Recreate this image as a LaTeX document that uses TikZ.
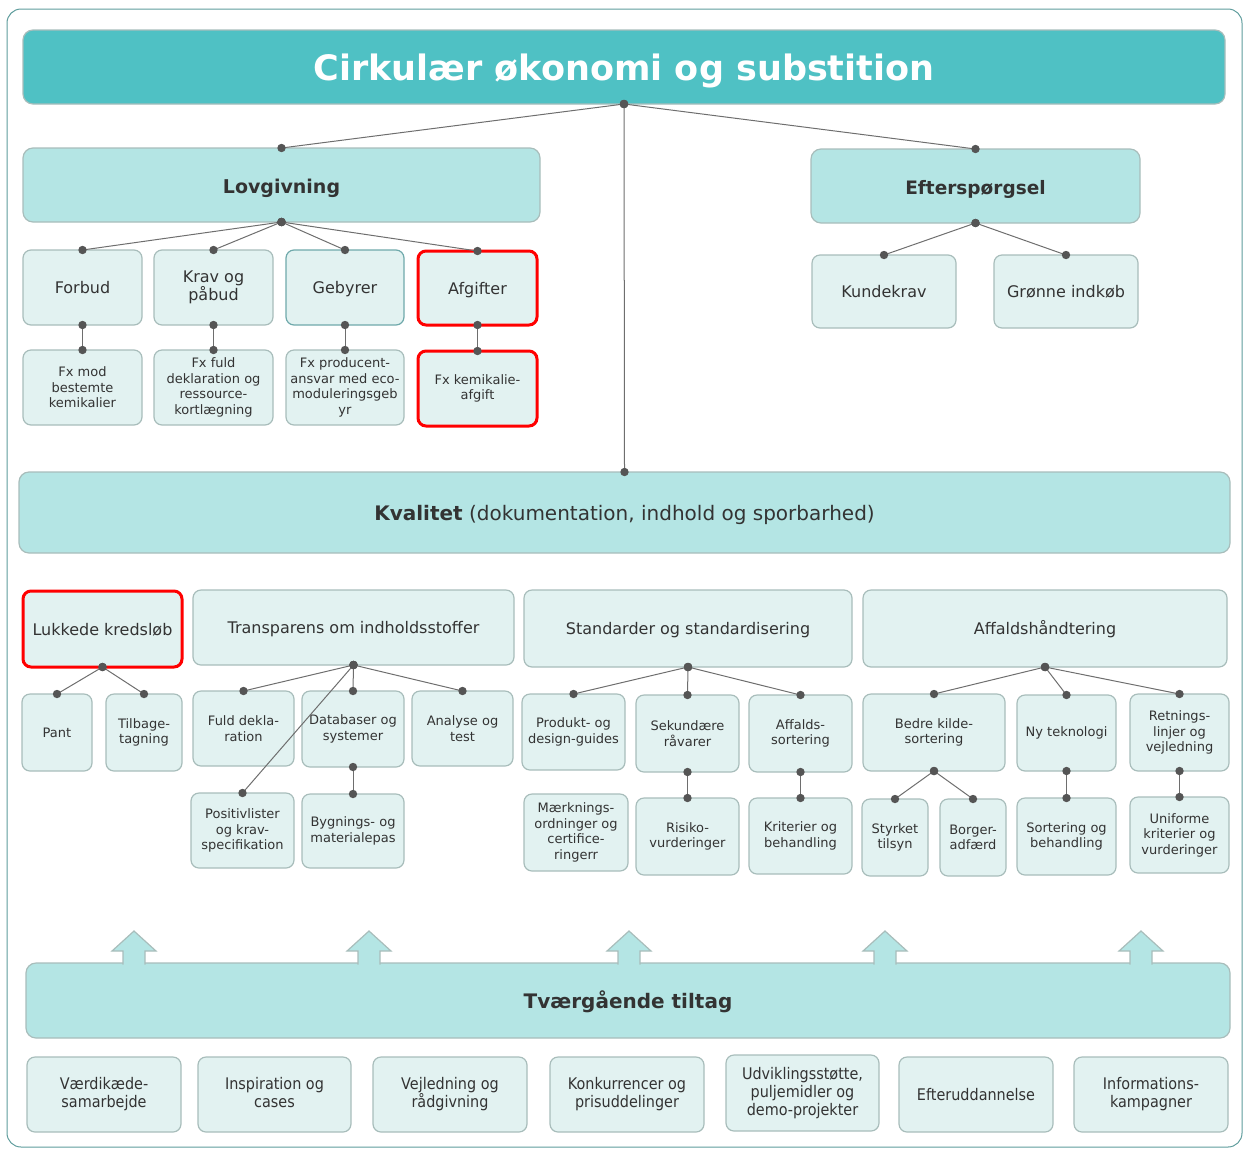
\documentclass[tikz,border=0pt]{standalone}
\usepackage{fontspec}
\setmainfont{DejaVu Sans}
\newfontfamily\condfont[FakeStretch=0.9]{DejaVu Sans}
\definecolor{titlefill}{HTML}{4FC1C4}
\definecolor{headfill}{HTML}{B4E5E4}
\definecolor{lightfill}{HTML}{E2F2F1}
\definecolor{boxline}{HTML}{A8BDBB}
\definecolor{tealline}{HTML}{6FA9AB}
\definecolor{linec}{HTML}{6E6E6E}
\definecolor{dotc}{HTML}{555555}
\definecolor{txt}{HTML}{333333}
\definecolor{framec}{HTML}{5E9C9C}
\newcommand\bx[6]{\node[#1,minimum width={#4-#3},minimum height={#6-#5}] (#2) at ({(#3+#4)/2},{(#5+#6)/2})}
\newcommand\lnk[2]{\draw[conn] (#1) -- (#2); \fill[dotc] (#1) circle (4.2); \fill[dotc] (#2) circle (4.2);}
\newcommand\uparr[1]{\draw[boxline, line width=1.2pt, fill=headfill, line join=miter] (#1-11,964.6) -- (#1-11,951) -- (#1-22,951) -- (#1,931) -- (#1+22,951) -- (#1+11,951) -- (#1+11,964.6);}
\begin{document}
\begin{tikzpicture}[x=1pt,y=-1pt,
  every node/.style={inner sep=0pt,outer sep=0pt},
  ss/.style 2 args={execute at begin node={\rule[-#2]{0pt}{\dimexpr#1+#2\relax}}},
  box/.style={draw=boxline, line width=1.2pt, rounded corners=8pt, fill=lightfill, text=txt, align=center},
  head/.style={box, fill=headfill, rounded corners=10pt},
  titlebox/.style={head, fill=titlefill, text=white, font=\fontsize{35}{40}\selectfont\bfseries, ss={35.1pt}{7.5pt}},
  redbox/.style={box, draw=red, line width=3pt},
  t16/.style={font=\fontsize{16}{18}\selectfont, ss={16pt}{4pt}},
  t13/.style={font=\fontsize{13}{15.5}\selectfont},
  tb/.style={font=\condfont\fontsize{16}{18}\selectfont, ss={16pt}{4pt}},
  conn/.style={draw=linec, line width=1pt}]
\useasboundingbox (0,0) rectangle (1246,1149);
\draw[framec, line width=1pt, rounded corners=14pt] (7,9) rectangle (1242,1147);

% title and main heads
\bx{titlebox}{title}{23}{1225}{30}{104} {Cirkulær økonomi og substition};
\bx{head,font=\fontsize{19}{22}\selectfont\bfseries,ss={20.5pt}{4.5pt}}{lov}{23}{540}{148}{222} {Lovgivning};
\bx{head,font=\fontsize{18.5}{22}\selectfont\bfseries,ss={20.5pt}{4.5pt}}{eft}{811}{1140}{149}{223} {Efterspørgsel};
\bx{head,font=\fontsize{20}{24}\selectfont,ss={20.6pt}{5pt}}{kval}{19}{1230}{472}{553} {\textbf{Kvalitet} (dokumentation, indhold og sporbarhed)};

% Lovgivning children
\bx{box,t16}{forbud}{23}{142}{250}{325} {Forbud};
\bx{box,t16}{krav}{154}{273}{250}{325} {Krav og\\påbud};
\bx{box,t16,draw=tealline}{geb}{286}{404}{250}{325} {Gebyrer};
\bx{redbox,t16}{afg}{418}{537}{251}{325} {Afgifter};
\bx{box,t13}{fxmod}{23}{142}{350}{425} {Fx mod\\bestemte\\kemikalier};
\bx{box,t13}{fxfuld}{154}{273}{350}{425} {Fx fuld\\deklaration og\\ressource-\\kortlægning};
\bx{box,t13}{fxprod}{286}{404}{350}{425} {Fx producent-\\ansvar med eco-\\moduleringsgeb\\yr};
\bx{redbox,t13}{fxkem}{418}{537}{351}{426} {Fx kemikalie-\\afgift};

% Efterspørgsel children
\bx{box,t16}{kunde}{812}{956}{255}{328} {Kundekrav};
\bx{box,t16}{gron}{994}{1138}{255}{328} {Grønne indkøb};

% Kvalitet row
\bx{redbox,t16}{luk}{23}{182}{591}{667} {Lukkede kredsløb};
\bx{box,t16}{trans}{193}{514}{590}{665} {Transparens om indholdsstoffer};
\bx{box,t16}{std}{524}{852}{590}{667} {Standarder og standardisering};
\bx{box,t16}{aff}{863}{1227}{590}{667} {Affaldshåndtering};

\bx{box,t13}{pant}{22}{92}{694}{771} {Pant};
\bx{box,t13}{tilb}{106}{182}{694}{771} {Tilbage-\\tagning};
\bx{box,t13}{fuld}{193}{294}{691}{766} {Fuld dekla-\\ration};
\bx{box,t13}{datab}{302}{404}{691}{767} {Databaser og\\systemer};
\bx{box,t13}{analyse}{412}{513}{691}{766} {Analyse og\\test};
\bx{box,t13}{prod}{522}{625}{694}{770} {Produkt- og\\design-guides};
\bx{box,t13}{sek}{636}{739}{695}{772} {Sekundære\\råvarer};
\bx{box,t13}{affs}{749}{852}{695}{772} {Affalds-\\sortering};
\bx{box,t13}{bedre}{863}{1005}{694}{771} {Bedre kilde-\\sortering};
\bx{box,t13}{ny}{1017}{1116}{695}{771} {Ny teknologi};
\bx{box,t13}{retn}{1130}{1229}{694}{771} {Retnings-\\linjer og\\vejledning};

\bx{box,t13}{posl}{191}{294}{793}{868} {Positivlister\\og krav-\\specifikation};
\bx{box,t13}{byg}{302}{404}{794}{868} {Bygnings- og\\materialepas};
\bx{box,t13}{maerk}{524}{628}{794}{871} {Mærknings-\\ordninger og\\certifice-\\ringerr};
\bx{box,t13}{risiko}{636}{739}{798}{875} {Risiko-\\vurderinger};
\bx{box,t13}{krit}{749}{852}{798}{874} {Kriterier og\\behandling};
\bx{box,t13}{styrk}{862}{928}{799}{876} {Styrket\\tilsyn};
\bx{box,t13}{borg}{940}{1006}{799}{876} {Borger-\\adfærd};
\bx{box,t13}{sort}{1017}{1116}{798}{875} {Sortering og\\behandling};
\bx{box,t13}{unif}{1130}{1229}{797}{873} {Uniforme\\kriterier og\\vurderinger};

% Tværgående
\bx{head,font=\fontsize{20}{24}\selectfont\bfseries,ss={20.6pt}{5pt}}{tvaer}{26}{1230}{963}{1038} {Tværgående tiltag};
\uparr{134}
\uparr{369}
\uparr{629}
\uparr{885}
\uparr{1141}

\bx{box,tb}{b1}{27}{181}{1057}{1132} {Værdikæde-\\samarbejde};
\bx{box,tb}{b2}{198}{351}{1057}{1132} {Inspiration og\\cases};
\bx{box,tb}{b3}{373}{527}{1057}{1132} {Vejledning og\\rådgivning};
\bx{box,tb}{b4}{550}{704}{1057}{1132} {Konkurrencer og\\prisuddelinger};
\bx{box,tb}{b5}{726}{879}{1055}{1131} {Udviklingsstøtte,\\puljemidler og\\demo-projekter};
\bx{box,tb}{b6}{899}{1053}{1057}{1132} {Efteruddannelse};
\bx{box,tb}{b7}{1074}{1228}{1057}{1132} {Informations-\\kampagner};

% connectors
\lnk{title.south}{lov.north}
\lnk{title.south}{eft.north}
\lnk{title.south}{kval.north}
\lnk{lov.south}{forbud.north}
\lnk{lov.south}{krav.north}
\lnk{lov.south}{geb.north}
\lnk{lov.south}{afg.north}
\lnk{forbud.south}{fxmod.north}
\lnk{krav.south}{fxfuld.north}
\lnk{geb.south}{fxprod.north}
\lnk{afg.south}{fxkem.north}
\lnk{eft.south}{kunde.north}
\lnk{eft.south}{gron.north}
\lnk{luk.south}{pant.north}
\lnk{luk.south}{tilb.north}
\lnk{trans.south}{fuld.north}
\lnk{trans.south}{datab.north}
\lnk{trans.south}{analyse.north}
\lnk{trans.south}{posl.north}
\lnk{datab.south}{byg.north}
\lnk{std.south}{prod.north}
\lnk{std.south}{sek.north}
\lnk{std.south}{affs.north}
\lnk{sek.south}{risiko.north}
\lnk{affs.south}{krit.north}
\lnk{aff.south}{bedre.north}
\lnk{aff.south}{ny.north}
\lnk{aff.south}{retn.north}
\lnk{bedre.south}{styrk.north}
\lnk{bedre.south}{borg.north}
\lnk{ny.south}{sort.north}
\lnk{retn.south}{unif.north}
\end{tikzpicture}
\end{document}
